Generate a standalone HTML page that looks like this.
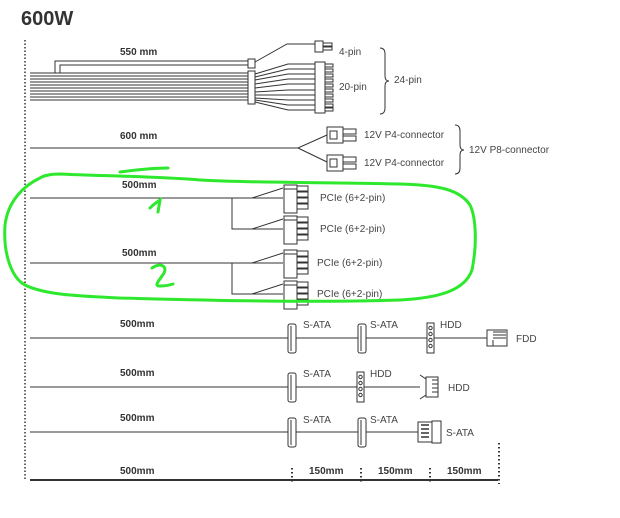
<!DOCTYPE html>
<html><head><meta charset="utf-8"><style>
html,body{margin:0;padding:0;background:#fff;}
svg{display:block;font-family:"Liberation Sans",sans-serif;}
</style></head><body>
<svg width="620" height="518" viewBox="0 0 620 518" xmlns="http://www.w3.org/2000/svg">
<rect width="620" height="518" fill="#fff"/>
<text x="21" y="25" font-size="20" font-weight="bold" fill="#333">600W</text>
<line x1="25" y1="40" x2="25" y2="480" stroke="#333" stroke-width="1.5" stroke-dasharray="1.5,2"/>

<g stroke="#333" fill="none" stroke-width="1">
<!-- 24 pin wires -->
<path d="M30 73H248M30 76H248M30 79H248M30 82H248M30 85H248M30 88H248M30 91H248M30 94H248M30 97H248M30 100H248"/>
<path d="M55 73V61H248M60 73V65H248"/>
<rect x="248" y="59" width="7" height="9" fill="#fff"/>
<rect x="248" y="71" width="7" height="33" fill="#fff"/>
<path d="M255 62L287 44H315"/>
<rect x="315" y="41" width="8" height="11" fill="#fff"/>
<path d="M323 43H332V46H323M323 47H332V50H323"/>
<path d="M255 74L288 64H315M255 77L288 69H315M255 80L288 74H315M255 84L288 79H315M255 88L288 84H315M255 92L288 90H315M255 95L288 95H315M255 98L288 100H315M255 100L288 105H315M255 102L288 110H315"/>
<rect x="315" y="62" width="10" height="51" fill="#fff"/>
<path d="M325 64h8v3h-8M325 69h8v3h-8M325 74h8v3h-8M325 79h8v3h-8M325 84h8v3h-8M325 89h8v3h-8M325 94h8v3h-8M325 99h8v3h-8M325 104h8v3h-8M325 108h8v3h-8"/>
<path d="M380 48q5 0 5 6v22q0 5 4 5q-4 0 -4 5v22q0 6 -5 6"/>
<!-- 600mm -->
<path d="M30 148H298L327 135M298 148L327 162"/>
<rect x="327" y="127" width="16" height="16" fill="#fff"/><rect x="330" y="131" width="7" height="8"/>
<path d="M343 129h13v5h-13M343 136h13v5h-13"/>
<rect x="327" y="155" width="16" height="16" fill="#fff"/><rect x="330" y="159" width="7" height="8"/>
<path d="M343 157h13v5h-13M343 164h13v5h-13"/>
<path d="M455 125q5 0 5 6v14q0 5 4 5q-4 0 -4 5v13q0 6 -5 6"/>
<!-- PCIe -->
<path d="M30 198H283M232 198V229H283M252 198L283 188M252 229L283 219"/>
<path d="M30 263H283M232 263V294H283M252 263L283 253M252 294L283 284"/>
<g id="pc">
<rect x="284" y="185" width="13" height="28" fill="#fff"/><rect x="284" y="185" width="13" height="4"/>
<path d="M297 186h11v5h-11M297 192h11v5h-11M297 198h11v5h-11M297 204h11v5h-11"/>
</g>
<use href="#pc" y="31"/><use href="#pc" y="65"/><use href="#pc" y="96"/>
<!-- SATA rows -->
<path d="M30 338H487M30 387H420M30 432H418"/>
<g id="sa"><rect x="288" y="324" width="8" height="29" rx="2" fill="#fff"/><line x1="291" y1="326" x2="291" y2="351"/></g>
<use href="#sa" x="70"/>
<use href="#sa" y="49"/><use href="#sa" y="94"/><use href="#sa" x="70" y="94"/>
<g id="hd"><rect x="427" y="323" width="7" height="30" fill="#fff"/>
<circle cx="430.5" cy="328" r="1.7"/><circle cx="430.5" cy="334" r="1.7"/><circle cx="430.5" cy="340" r="1.7"/><circle cx="430.5" cy="346" r="1.7"/></g>
<use href="#hd" x="-70" y="49"/>
<path d="M487 330h20v16h-20zM493 332h13M493 335h13M493 338h13M493 340v6"/>
<path d="M420 375l6 4v16l-6 4M426 377h12v20h-12zM432 380h6M432 384h6M432 388h6M432 392h6"/>
<rect x="418" y="422" width="14" height="20" fill="#fff"/><rect x="432" y="421" width="9" height="22"/>
<path d="M421 425h8M421 429h8M421 433h8M421 437h8" stroke-width="1.5"/>
</g>
<!-- bottom -->
<line x1="30" y1="480" x2="498" y2="480" stroke="#333" stroke-width="2"/>
<g stroke="#333" stroke-width="2" stroke-dasharray="1.5,2.5">
<line x1="292" y1="468" x2="292" y2="484"/><line x1="361" y1="468" x2="361" y2="484"/><line x1="430" y1="468" x2="430" y2="484"/><line x1="499" y1="443" x2="499" y2="484"/>
</g>
<g font-size="10" font-weight="bold" fill="#333">
<text x="120" y="55">550 mm</text><text x="120" y="139">600 mm</text>
<text x="122" y="188">500mm</text><text x="122" y="256">500mm</text>
<text x="120" y="327">500mm</text><text x="120" y="376">500mm</text><text x="120" y="421">500mm</text>
<text x="120" y="474">500mm</text><text x="309" y="474">150mm</text><text x="378" y="474">150mm</text><text x="447" y="474">150mm</text>
</g>
<g font-size="10" fill="#444">
<text x="339" y="55">4-pin</text><text x="339" y="90">20-pin</text><text x="394" y="83">24-pin</text>
<text x="364" y="138">12V P4-connector</text><text x="364" y="166">12V P4-connector</text><text x="469" y="153">12V P8-connector</text>
<text x="320" y="201">PCIe (6+2-pin)</text><text x="320" y="232">PCIe (6+2-pin)</text>
<text x="317" y="266">PCIe (6+2-pin)</text><text x="317" y="297">PCIe (6+2-pin)</text>
<text x="303" y="328">S-ATA</text><text x="370" y="328">S-ATA</text><text x="440" y="328">HDD</text><text x="516" y="342">FDD</text>
<text x="303" y="377">S-ATA</text><text x="370" y="377">HDD</text><text x="448" y="391">HDD</text>
<text x="303" y="423">S-ATA</text><text x="370" y="423">S-ATA</text><text x="446" y="436">S-ATA</text>
</g>
<!-- green scribbles -->
<g stroke="#2ee82e" stroke-width="3" fill="none" stroke-linecap="round">
<path d="M40 178C25 185 8 200 5 225C3 255 12 278 25 285C45 295 80 296 120 298C200 300 300 303 400 300C440 298 465 290 472 270C478 240 475 215 470 205C460 190 440 185 400 184C320 182 250 183 200 180C150 176 100 176 60 174C50 174 43 176 40 178Z"/>
<path d="M120 172C135 170 155 168 168 168"/>
<path d="M150 208C153 205 157 202 160 200L158 212"/>
<path d="M152 268C160 262 170 266 162 276C158 282 154 286 160 286C165 286 170 285 173 284"/>
</g>
</svg>
</body></html>
